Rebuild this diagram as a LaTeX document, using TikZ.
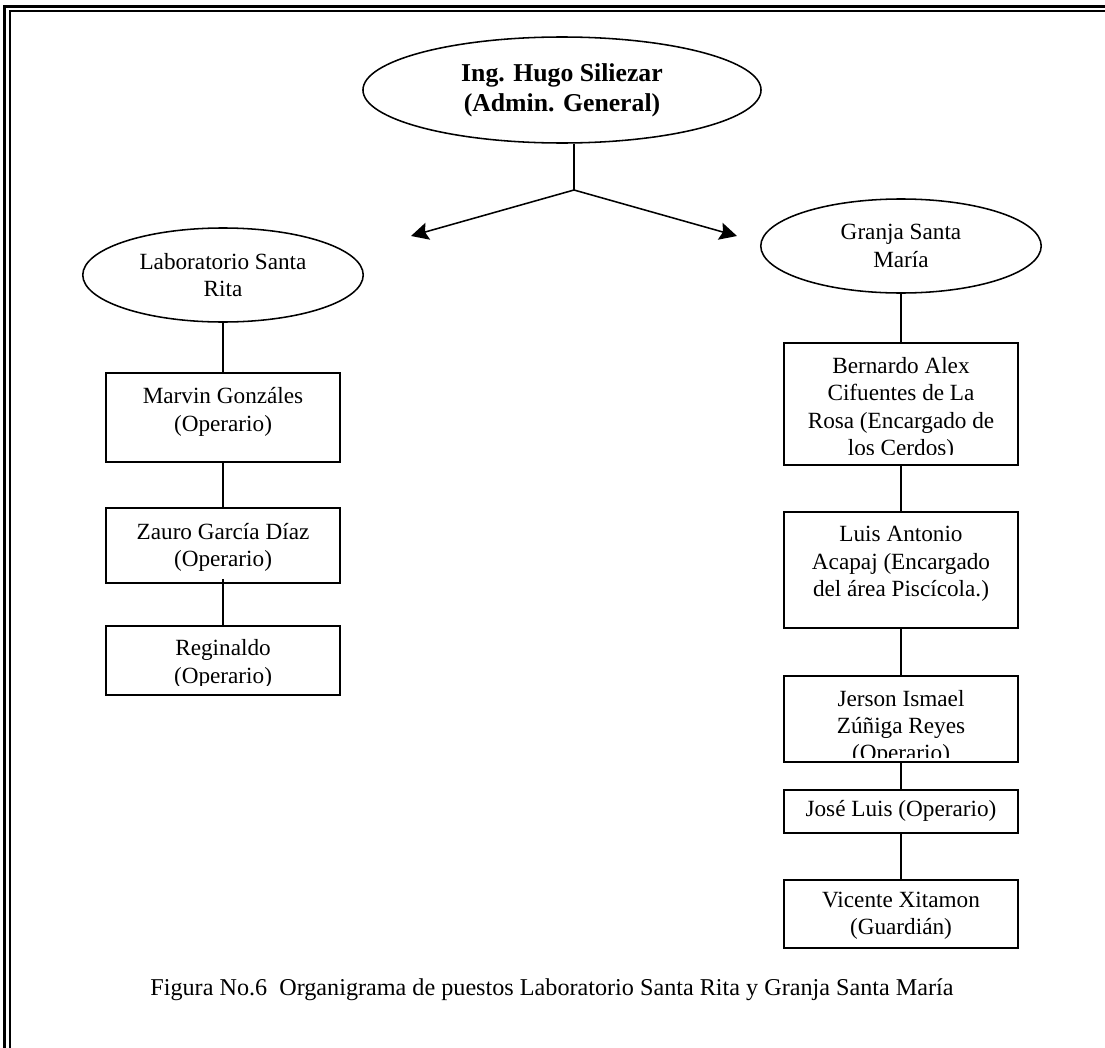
\documentclass[tikz,border=0pt]{standalone}
\usepackage{fontspec}
\setmainfont{Liberation Serif}
\usetikzlibrary{arrows.meta, shapes.geometric}

\tikzset{
jefe/.style={ellipse,draw,line width=.8pt,inner sep=0pt,minimum width=205.8pt,minimum height=54.8pt,align=center,font=\fontsize{13.3}{15.5}\selectfont\bfseries},
sede/.style={ellipse,draw,line width=.8pt,inner sep=0pt,minimum width=145pt,minimum height=48.6pt,align=center},
puesto/.style={rectangle,draw,line width=.8pt,minimum width=121pt},
nombre/.style={align=center,inner sep=0pt},
linea/.style={line width=.8pt}
}

\begin{document}
\begin{tikzpicture}[x=0.517pt,y=-0.517pt,>={Stealth[length=9pt,width=9pt,inset=1.5pt]},
every node/.style={font=\fontsize{12}{14.1}\selectfont}]
\useasboundingbox (0,0) rectangle (1105,1048);
% marco
\draw[line width=1.5pt] (4.8,1048) |- (1105,6.2);
\draw[line width=1.2pt] (10.2,1048) |- (1105,11.2);

\node[jefe] (H) at (562,90) {Ing. Hugo Siliezar\\(Admin. General)};
\node[sede] (L) at (223,275) {Laboratorio Santa\\Rita};
\node[sede] (G) at (901,246) {Granja Santa\\María};

\coordinate (J) at (574,190);
\coordinate (LA) at (411,236);
\coordinate (GA) at (737,236);
\draw[linea] (H.south -| J) -- (J);
\draw[linea,->] (J) -- (LA);
\draw[linea,->] (J) -- (GA);

% Laboratorio Santa Rita
\node[puesto,minimum height=46pt] (L1) at (223,417.5) {};
\node[nombre] (L1t) at (223,412) {Marvin Gonzáles\\(Operario)};
\node[puesto,minimum height=38.8pt] (L2) at (223,545.5) {};
\node[nombre] (L2t) at (223,547.5) {Zauro García Díaz\\(Operario)};
\node[puesto,minimum height=35.7pt] (L3) at (223,660.5) {};
\begin{scope}
\clip (L3.north west) rectangle ([yshift=5.2pt]L3.south east);
\node[nombre] (L3t) at (223,664) {Reginaldo\\(Operario)};
\end{scope}
\draw[linea] (L) -- (L1);
\draw[linea] (L1) -- (L2);
\draw[linea] ([yshift=2.5pt]L2.south) -- (L3);

% Granja Santa Maria
\node[puesto,minimum height=63.1pt] (G1) at (901,404) {};
\begin{scope}
\clip (G1.north west) rectangle ([yshift=5.7pt]G1.south east);
\node[nombre] (G1t) at (901,409) {Bernardo Alex\\Cifuentes de La\\Rosa (Encargado de\\los Cerdos)};
\end{scope}
\node[puesto,minimum height=60pt] (G2) at (901,570) {};
\node[nombre] (G2t) at (901,564) {Luis Antonio\\Acapaj (Encargado\\del área Piscícola.)};
\node[puesto,minimum height=44.5pt] (G3) at (901,719) {};
\begin{scope}
\clip (G3.north west) rectangle ([yshift=2.6pt]G3.south east);
\node[nombre] (G3t) at (901,728) {Jerson Ismael\\Zúñiga Reyes\\(Operario)};
\end{scope}
\node[puesto,minimum height=22.2pt] (G4) at (901,811.5) {};
\node[nombre] (G4t) at (901,811) {José Luis (Operario)};
\node[puesto,minimum height=35.2pt] (G5) at (901,914) {};
\node[nombre] (G5t) at (901,916) {Vicente Xitamon\\(Guardián)};
\draw[linea] (G) -- (G1);
\draw[linea] (G1) -- (G2);
\draw[linea] (G2) -- (G3);
\draw[linea] (G3) -- (G4);
\draw[linea] (G4) -- (G5);

\node[font=\fontsize{12.5}{14.5}\selectfont] (cap) at (552,990) {Figura No.6~ Organigrama de puestos Laboratorio Santa Rita y Granja Santa María};
\end{tikzpicture}
\end{document}
